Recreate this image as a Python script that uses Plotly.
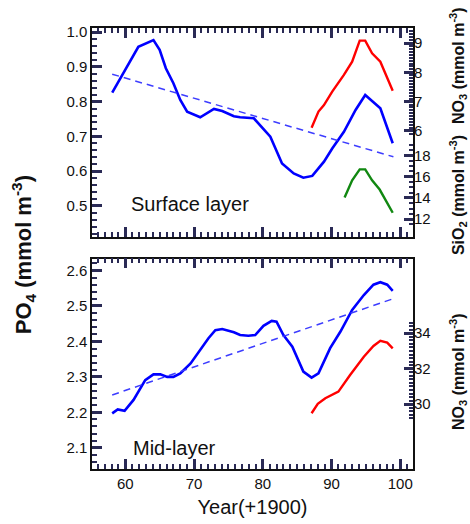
import plotly.graph_objects as go

# Surface layer PO4 (mmol m-3)
surf_years = [58.1, 59.3, 60.5, 61.9, 64.1, 65.0, 65.9, 67.0, 68.0, 69.0, 70.9, 72.9,
              74.1, 75.8, 76.7, 78.7, 81.1, 82.8, 84.5, 85.9, 87.2, 88.9, 90.1, 91.8,
              93.5, 94.9, 97.1, 98.9]
surf_po4 = [0.826, 0.867, 0.910, 0.958, 0.977, 0.949, 0.896, 0.853, 0.805, 0.771, 0.755, 0.779,
            0.773, 0.758, 0.755, 0.752, 0.699, 0.622, 0.593, 0.581, 0.586, 0.627, 0.665, 0.713,
            0.776, 0.819, 0.781, 0.680]
surf_trend_years = [58.1, 99.0]
surf_trend_po4 = [0.879, 0.641]

# Surface layer NO3 (mmol m-3)
surf_no3_years = [87.1, 88.1, 88.9, 90.1, 91.8, 93.0, 94.1, 94.9, 95.9, 97.1, 98.9]
surf_no3 = [6.11, 6.66, 6.88, 7.34, 7.91, 8.36, 9.08, 9.08, 8.65, 8.36, 7.37]

# Surface layer SiO2 (mmol m-3)
surf_sio2_years = [91.9, 93.0, 94.1, 94.9, 95.9, 97.0, 98.9]
surf_sio2 = [14.03, 15.66, 16.69, 16.69, 15.66, 14.79, 12.60]

# Mid-layer PO4 (mmol m-3)
mid_years = [58.1, 58.9, 59.9, 61.2, 62.9, 64.1, 65.1, 66.1, 67.0, 68.0, 69.5, 70.9,
             72.1, 73.1, 74.1, 75.8, 76.7, 77.9, 78.9, 80.1, 81.3, 82.0, 83.0, 84.3,
             85.9, 87.1, 88.1, 89.8, 91.3, 93.0, 94.7, 96.1, 97.1, 98.1, 98.9]
mid_po4 = [2.197, 2.208, 2.204, 2.235, 2.291, 2.307, 2.307, 2.300, 2.300, 2.310, 2.338, 2.376,
           2.409, 2.432, 2.435, 2.426, 2.418, 2.416, 2.418, 2.444, 2.458, 2.456, 2.418, 2.385,
           2.315, 2.298, 2.310, 2.381, 2.428, 2.489, 2.531, 2.560, 2.567, 2.560, 2.543]
mid_trend_years = [58.1, 99.2]
mid_trend_po4 = [2.249, 2.522]

# Mid-layer NO3 (mmol m-3)
mid_no3_years = [87.1, 88.0, 89.1, 91.0, 92.7, 94.7, 96.1, 97.1, 98.1, 98.9]
mid_no3 = [29.49, 30.02, 30.34, 30.71, 31.65, 32.68, 33.28, 33.57, 33.47, 33.15]

year_ticks = [60, 70, 80, 90, 100]
surf_no3_ticks = [6, 7, 8, 9]
surf_sio2_ticks = [12, 14, 16, 18]
mid_no3_ticks = [30, 32, 34]

BLUE = "#0000ff"
DASH_BLUE = "#3d3dff"
RED = "#ff0000"
GREEN = "#118811"
FONT = "Liberation Sans"
INK = "#111111"
TICK = "#2a2a55"


def minor_marks(lo, hi, step):
    """Positions of the small ticks drawn along a stretch of a right-hand scale."""
    n = int(round((hi - lo) / step))
    return [round(lo + i * step, 4) for i in range(n + 1)]


fig = go.Figure()
fig.add_trace(go.Scatter(x=surf_years, y=surf_po4, mode="lines", xaxis="x", yaxis="y",
                         line=dict(color=BLUE, width=2.6)))
fig.add_trace(go.Scatter(x=surf_trend_years, y=surf_trend_po4, mode="lines", xaxis="x", yaxis="y",
                         line=dict(color=DASH_BLUE, width=1.5, dash="7px,5px")))
fig.add_trace(go.Scatter(x=surf_no3_years, y=surf_no3, mode="lines", xaxis="x", yaxis="y3",
                         line=dict(color=RED, width=2.4)))
fig.add_trace(go.Scatter(x=surf_sio2_years, y=surf_sio2, mode="lines", xaxis="x", yaxis="y4",
                         line=dict(color=GREEN, width=2.4)))
fig.add_trace(go.Scatter(x=mid_years, y=mid_po4, mode="lines", xaxis="x2", yaxis="y2",
                         line=dict(color=BLUE, width=2.6)))
fig.add_trace(go.Scatter(x=mid_trend_years, y=mid_trend_po4, mode="lines", xaxis="x2", yaxis="y2",
                         line=dict(color=DASH_BLUE, width=1.5, dash="7px,5px")))
fig.add_trace(go.Scatter(x=mid_no3_years, y=mid_no3, mode="lines", xaxis="x2", yaxis="y5",
                         line=dict(color=RED, width=2.4)))

tick_font = dict(family=FONT, size=15, color=INK)
xrange = [55.16, 101.85]

common_x = dict(range=xrange, tickvals=year_ticks, ticks="inside", ticklen=10, tickwidth=2.5,
                tickcolor=TICK, showline=True, linecolor=INK, linewidth=1.5,
                mirror="ticks", showgrid=False, zeroline=False, tickfont=tick_font,
                minor=dict(dtick=1, ticks="inside", ticklen=5, tickcolor=TICK, tickwidth=2),
                domain=[0, 1])
common_y = dict(ticks="inside", ticklen=10, tickwidth=2.5, tickcolor=TICK, showline=True,
                linecolor=INK, linewidth=1.5, mirror=True, showgrid=False, zeroline=False,
                tickfont=tick_font, dtick=0.1, tickformat=".1f",
                minor=dict(dtick=0.02, ticks="inside", ticklen=5, tickcolor=TICK, tickwidth=2))
right_y = dict(side="right", ticks="inside", ticklen=9, tickwidth=2.5, tickcolor=TICK,
               showline=False, showgrid=False, zeroline=False, tickfont=tick_font)

fig.update_layout(
    template="none",
    width=470, height=524,
    margin=dict(l=92, r=57, t=28, b=55),
    paper_bgcolor="white", plot_bgcolor="white",
    showlegend=False,
    font=dict(family=FONT, color=INK),
    xaxis=dict(common_x, anchor="y", showticklabels=False),
    xaxis2=dict(common_x, anchor="y2",
                title=dict(text="Year(+1900)", font=dict(family=FONT, size=20, color=INK),
                           standoff=9)),
    yaxis=dict(common_y, domain=[0.526, 1.0], range=[0.41, 1.012], anchor="x"),
    yaxis2=dict(common_y, domain=[0.0, 0.4773], range=[2.04, 2.634], anchor="x2"),
    # right-hand scales share their panel's height; ticks only cover their own stretch
    yaxis3=dict(right_y, overlaying="y", anchor="x", range=[2.379, 9.512],
                tickvals=surf_no3_ticks,
                minor=dict(tickvals=minor_marks(5.9, 9.5, 0.1), ticks="inside", ticklen=4,
                           tickcolor=TICK, tickwidth=2)),
    yaxis4=dict(right_y, overlaying="y", anchor="x", range=[10.31, 30.03],
                tickvals=surf_sio2_ticks,
                minor=dict(tickvals=minor_marks(11.5, 19.0, 0.5), ticks="inside", ticklen=4,
                           tickcolor=TICK, tickwidth=2)),
    yaxis5=dict(right_y, overlaying="y2", anchor="x2", range=[26.35, 38.21],
                tickvals=mid_no3_ticks,
                minor=dict(tickvals=minor_marks(29.2, 34.6, 0.2), ticks="inside", ticklen=4,
                           tickcolor=TICK, tickwidth=2)),
)

title_font = dict(family=FONT, size=16, color=INK, weight="bold")
rot = dict(xref="paper", yref="paper", textangle=-90, showarrow=False,
           xanchor="center", yanchor="middle")
fig.add_annotation(rot, text="PO<sub>4</sub> (mmol m<sup>-3</sup>)", x=-0.215, y=0.487,
                   font=dict(family=FONT, size=22, color=INK, weight="bold"))
fig.add_annotation(rot, text="NO<sub>3</sub> (mmol m<sup>-3</sup>)", x=1.14, y=0.916,
                   font=title_font)
fig.add_annotation(rot, text="SiO<sub>2</sub> (mmol m<sup>-3</sup>)", x=1.14, y=0.621,
                   font=title_font)
fig.add_annotation(rot, text="NO<sub>3</sub> (mmol m<sup>-3</sup>)", x=1.14, y=0.222,
                   font=title_font)
fig.add_annotation(text="Surface layer", xref="paper", yref="paper", x=0.306, y=0.601,
                   xanchor="center", yanchor="middle", showarrow=False,
                   font=dict(family=FONT, size=20, color=INK))
fig.add_annotation(text="Mid-layer", xref="paper", yref="paper", x=0.256, y=0.048,
                   xanchor="center", yanchor="middle", showarrow=False,
                   font=dict(family=FONT, size=20, color=INK))

fig.write_html("out.html")
